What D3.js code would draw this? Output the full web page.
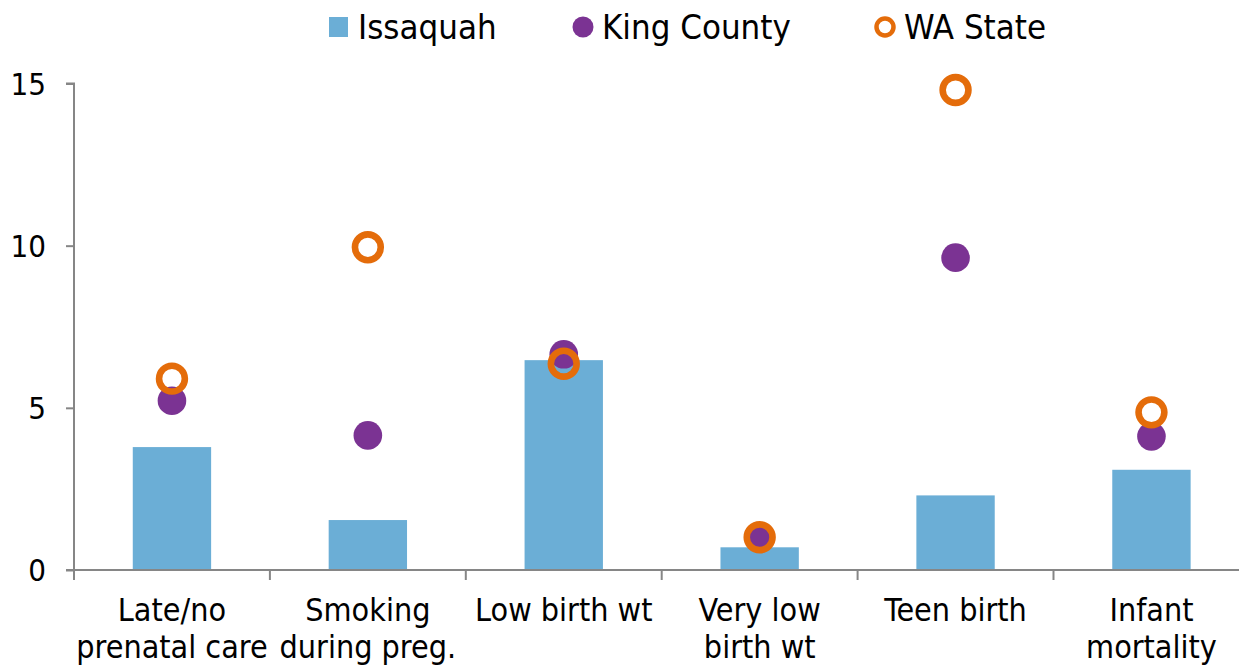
<!DOCTYPE html>
<html>
<head>
<meta charset="utf-8">
<script src="https://cdn.jsdelivr.net/npm/d3@7"></script>
<style>
  html, body { margin: 0; padding: 0; background: #fff; }
  svg text { font-family: 'DejaVu Sans Condensed', 'DejaVu Sans', sans-serif; font-stretch: condensed; fill: #000; }
</style>
</head>
<body>
<svg id="chart" width="1239" height="666"></svg>
<script>
// ---- data ----
const categories = [
  ["Late/no", "prenatal care"],
  ["Smoking", "during preg."],
  ["Low birth wt"],
  ["Very low", "birth wt"],
  ["Teen birth"],
  ["Infant", "mortality"]
];
const issaquah   = [3.79, 1.54, 6.47, 0.70, 2.30, 3.09];
const kingCounty = [5.22, 4.15, 6.65, 1.01, 9.63, 4.12];
const waState    = [5.90, 9.95, 6.36, 1.01, 14.80, 4.86];
const yTicks = [0, 5, 10, 15];
const seriesNames = ["Issaquah", "King County", "WA State"];

// ---- layout ----
const svg = d3.select("#chart");
const x0 = 74, y0 = 570, yTop = 83.5, band = 195.9;
const catKeys = categories.map(c => c.join(" "));
const x = d3.scaleBand().domain(catKeys).range([x0, x0 + band * catKeys.length]).padding(0);
const y = d3.scaleLinear().domain([0, 15]).range([y0, yTop]);

const colBar = "#6BAED6", colKC = "#7B3393", colWA = "#E46C0A", axisCol = "#868686";

// bars
svg.append("g").selectAll("rect").data(issaquah).join("rect")
  .attr("x", (d, i) => x(catKeys[i]) + x.bandwidth() * 0.3)
  .attr("width", x.bandwidth() * 0.4)
  .attr("y", d => y(d))
  .attr("height", d => y(0) - y(d))
  .attr("fill", colBar);

// axes
const yAxis = svg.append("g").attr("transform", `translate(${x0},0)`)
  .call(d3.axisLeft(y).tickValues(yTicks).tickSize(8).tickPadding(20).tickFormat(d3.format("d")));
yAxis.select(".domain").attr("stroke", axisCol).attr("stroke-width", 2).attr("d", `M-8,${yTop}H0V${y0}`);
yAxis.selectAll(".tick line").attr("stroke", axisCol).attr("stroke-width", 2);
yAxis.selectAll(".tick text").attr("font-size", 31).attr("dy", "0.34em").style("font-family", "'DejaVu Sans Condensed', 'DejaVu Sans', sans-serif");

const xAxis = svg.append("g").attr("transform", `translate(0,${y0})`)
  .call(d3.axisBottom(x).tickSize(0).tickFormat(""));
xAxis.select(".domain").attr("stroke", axisCol).attr("stroke-width", 2).attr("d", `M${x0-8},0H${x0 + band * 6}`);
xAxis.selectAll(".tick line").remove();
// boundary ticks
svg.append("g").selectAll("line").data(d3.range(catKeys.length + 1)).join("line")
  .attr("x1", i => x0 + band * i).attr("x2", i => x0 + band * i)
  .attr("y1", y0).attr("y2", y0 + 10)
  .attr("stroke", axisCol).attr("stroke-width", 2);

// category labels
const lab = svg.append("g");
categories.forEach((lines, i) => {
  const cx = x(catKeys[i]) + x.bandwidth() / 2;
  const t = lab.append("text").attr("text-anchor", "middle").attr("font-size", 32);
  lines.forEach((ln, j) => {
    t.append("tspan").attr("x", cx).attr("y", 621 + j * 37).text(ln);
  });
});

// King County dots
svg.append("g").selectAll("circle").data(kingCounty).join("circle")
  .attr("cx", (d, i) => x(catKeys[i]) + x.bandwidth() / 2)
  .attr("cy", d => y(d))
  .attr("r", 14.3)
  .attr("fill", colKC);

// WA State rings
svg.append("g").selectAll("circle").data(waState).join("circle")
  .attr("cx", (d, i) => x(catKeys[i]) + x.bandwidth() / 2)
  .attr("cy", d => y(d))
  .attr("r", 12.9)
  .attr("fill", "none")
  .attr("stroke", colWA)
  .attr("stroke-width", 6.6);

// legend
const leg = svg.append("g");
const legY = 27;
const legItems = [
  { name: seriesNames[0], x: 329, type: "rect" },
  { name: seriesNames[1], x: 573, type: "dot" },
  { name: seriesNames[2], x: 875, type: "ring" }
];
legItems.forEach(it => {
  if (it.type === "rect") {
    leg.append("rect").attr("x", it.x).attr("y", legY - 10).attr("width", 19).attr("height", 20).attr("fill", colBar);
  } else if (it.type === "dot") {
    leg.append("circle").attr("cx", it.x + 10).attr("cy", legY).attr("r", 10.5).attr("fill", colKC);
  } else {
    leg.append("circle").attr("cx", it.x + 10).attr("cy", legY).attr("r", 8.5).attr("fill", "none").attr("stroke", colWA).attr("stroke-width", 4.5);
  }
  leg.append("text").attr("x", it.x + 29).attr("y", legY + 12).attr("font-size", 34.5).text(it.name);
});
</script>
</body>
</html>
